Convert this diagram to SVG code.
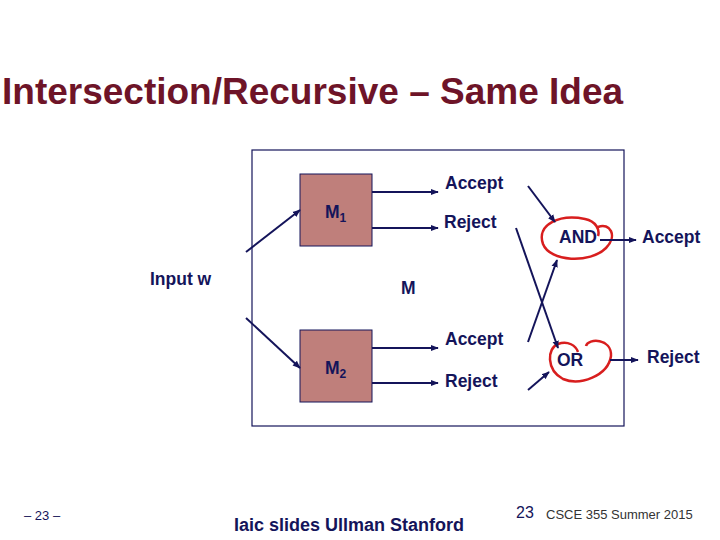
<svg xmlns="http://www.w3.org/2000/svg" width="720" height="540" viewBox="0 0 720 540">
<style>
text{font-family:"Liberation Sans",Arial,sans-serif;fill:#14145a}
.l{font-size:17.5px;font-weight:bold}
.c line{stroke:#14145a;stroke-width:2;marker-end:url(#a)}
.box{fill:#bf7f7b;stroke:#14145a;stroke-width:1}
.red{fill:none;stroke:#d81e1e;stroke-width:2.5}
</style>
<defs><marker id="a" viewBox="0 0 10 10" refX="9" refY="5" markerWidth="4" markerHeight="4" orient="auto"><path d="M0,1 L10,5 L0,9 z" fill="#14145a"/></marker></defs>
<rect width="720" height="540" fill="#fff"/>
<text x="2" y="104" style="font-size:37px;font-weight:bold;fill:#6e1428">Intersection/Recursive – Same Idea</text>
<rect x="252" y="150" width="372" height="276" fill="#fff" stroke="#14145a" stroke-width="1.2"/>
<g id="m1"><rect class="box" x="300" y="174" width="72" height="72"/><text class="l" x="325" y="218">M<tspan font-size="12" dy="4">1</tspan></text></g>
<g id="m2"><rect class="box" x="300" y="330" width="72" height="72"/><text class="l" x="325" y="374">M<tspan font-size="12" dy="4">2</tspan></text></g>
<g id="labels">
<text class="l" x="445" y="189">Accept</text>
<text class="l" x="444" y="228">Reject</text>
<text class="l" x="445" y="345">Accept</text>
<text class="l" x="445" y="387">Reject</text>
<text class="l" x="150" y="285">Input w</text>
<text class="l" x="401" y="294">M</text>
</g>
<g id="and"><path class="red" d="M598,227 C610,222 618,236 606,248 C590,264 550,262 543,244 C536,224 560,214 585,219 C596,221 600,230 598,236"/><text class="l" x="559" y="243">AND</text></g>
<g id="or"><path class="red" d="M586,346 C588,338 612,338 611,356 C608,376 580,386 563,379 C546,370 547,348 558,344 C568,340 576,346 578,352"/><text class="l" x="557" y="366">OR</text></g>
<g id="out"><text class="l" x="642" y="243">Accept</text><text class="l" x="647" y="363">Reject</text></g>
<g class="c" id="connectors">
<line x1="372" y1="192" x2="438" y2="192"/>
<line x1="372" y1="228" x2="438" y2="228"/>
<line x1="372" y1="348" x2="438" y2="348"/>
<line x1="372" y1="383" x2="438" y2="383"/>
<line x1="246" y1="252" x2="300" y2="210"/>
<line x1="246" y1="318" x2="300" y2="368"/>
<line x1="528" y1="186" x2="555" y2="222"/>
<line x1="516" y1="228" x2="558" y2="348"/>
<line x1="528" y1="342" x2="557" y2="260"/>
<line x1="528" y1="390" x2="549" y2="372"/>
<line x1="600" y1="240" x2="636" y2="240"/>
<line x1="610" y1="360" x2="638" y2="360"/>
</g>
<text x="24" y="520" style="font-size:13px">– 23 –</text>
<text x="234" y="531" style="font-size:18px;font-weight:bold">Iaic slides Ullman Stanford</text>
<text x="516" y="518" style="font-size:16px">23</text>
<text x="546" y="519" style="font-size:13px;fill:#333">CSCE 355 Summer 2015</text>
</svg>
